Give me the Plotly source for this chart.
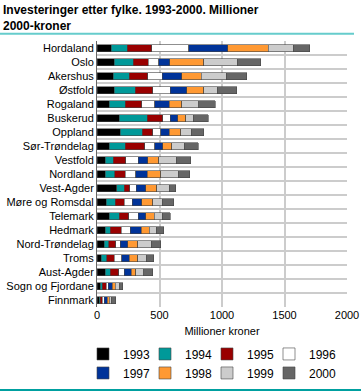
import plotly.graph_objects as go

counties = ["Hordaland", "Oslo", "Akershus", "Østfold", "Rogaland", "Buskerud",
            "Oppland", "Sør-Trøndelag", "Vestfold", "Nordland", "Vest-Agder",
            "Møre og Romsdal", "Telemark", "Hedmark", "Nord-Trøndelag", "Troms",
            "Aust-Agder", "Sogn og Fjordane", "Finnmark"]

years = ["1993", "1994", "1995", "1996", "1997", "1998", "1999", "2000"]

v1993 = [112, 136, 131, 136, 99, 179, 184, 96, 64, 67, 157, 75, 96, 67, 56, 35, 64, 24, 16]
v1994 = [131, 155, 128, 171, 128, 224, 179, 131, 67, 75, 61, 72, 83, 40, 37, 43, 43, 19, 11]
v1995 = [195, 120, 147, 139, 131, 123, 83, 155, 99, 83, 43, 72, 75, 88, 56, 61, 67, 29, 13]
v1996 = [296, 83, 117, 141, 104, 61, 64, 80, 101, 85, 53, 64, 75, 72, 37, 59, 43, 19, 19]
v1997 = [312, 88, 155, 131, 115, 59, 67, 64, 75, 91, 75, 75, 61, 85, 61, 59, 56, 32, 21]
v1998 = [325, 272, 157, 136, 101, 64, 93, 72, 88, 109, 88, 88, 69, 67, 80, 69, 35, 21, 16]
v1999 = [200, 269, 200, 109, 136, 61, 83, 101, 141, 141, 101, 77, 64, 53, 107, 67, 64, 32, 16]
v2000 = [131, 187, 163, 155, 131, 117, 101, 109, 115, 91, 51, 91, 61, 61, 77, 61, 75, 29, 37]

series = [v1993, v1994, v1995, v1996, v1997, v1998, v1999, v2000]
colors = ["#000000", "#009999", "#990000", "#ffffff", "#003399", "#ff9933", "#cccccc", "#666666"]

ypos = list(range(len(counties)))

fig = go.Figure()
for i, (yr, vals, col) in enumerate(zip(years, series, colors)):
    fig.add_trace(go.Bar(
        y=ypos, x=vals, name=yr, orientation="h",
        legendgroup="g%d" % (i % 4), legendrank=(i % 4) * 10 + i // 4,
        legendwidth=32 if i % 4 == 3 else None,
        marker=dict(color=col, line=dict(color="#444444", width=0.6)),
    ))

fig.update_layout(
    width=361, height=391,
    barmode="stack", bargap=0.5,
    paper_bgcolor="white", plot_bgcolor="white",
    margin=dict(l=97, r=14, t=41, b=84, autoexpand=False),
    font=dict(family="Liberation Sans, Arial, sans-serif", size=11, color="#000000"),
    xaxis=dict(
        range=[0, 2000], tickvals=[0, 500, 1000, 1500, 2000],
        showgrid=True, gridcolor="#cccccc", gridwidth=2,
        zeroline=False, showline=False, ticks="",
        title=dict(text="Millioner kroner", standoff=7, font=dict(size=11)),
        tickfont=dict(size=11), automargin=False,
    ),
    yaxis=dict(
        range=[len(counties) - 0.5, -0.5],
        tickvals=ypos, ticktext=counties,
        showgrid=False, zeroline=False, ticks="",
        showline=True, linecolor="#666666", linewidth=1,
        tickfont=dict(size=11), automargin=False,
        minor=dict(tickvals=[i + 0.5 for i in range(-1, len(counties))],
                   showgrid=True, gridcolor="#cccccc", gridwidth=2, ticks=""),
    ),
    legend=dict(
        orientation="h", x=-0.056, xanchor="left", y=-0.122, yanchor="top",
        font=dict(size=12), traceorder="grouped",
        entrywidth=17, entrywidthmode="pixels",
        tracegroupgap=0, itemclick=False,
    ),
    annotations=[
        dict(text="<b>Investeringer etter fylke. 1993-2000. Millioner<br>2000-kroner</b>",
             xref="paper", yref="paper", x=-0.384, y=1.15,
             xanchor="left", yanchor="top", align="left", showarrow=False,
             font=dict(size=12, family="Liberation Sans, Arial, sans-serif", color="#000000")),
    ],
    shapes=[
        dict(type="line", xref="paper", yref="paper",
             x0=-0.388, x1=1.028, y0=1.0274, y1=1.0274,
             line=dict(color="#66cccc", width=2)),
        dict(type="line", xref="paper", yref="paper",
             x0=-0.388, x1=1.056, y0=-0.312, y1=-0.312,
             line=dict(color="#00a0a0", width=2)),
    ],
)

fig.write_html("out.html", config={"displayModeBar": False},
               post_script="document.body.style.margin='0px';")
